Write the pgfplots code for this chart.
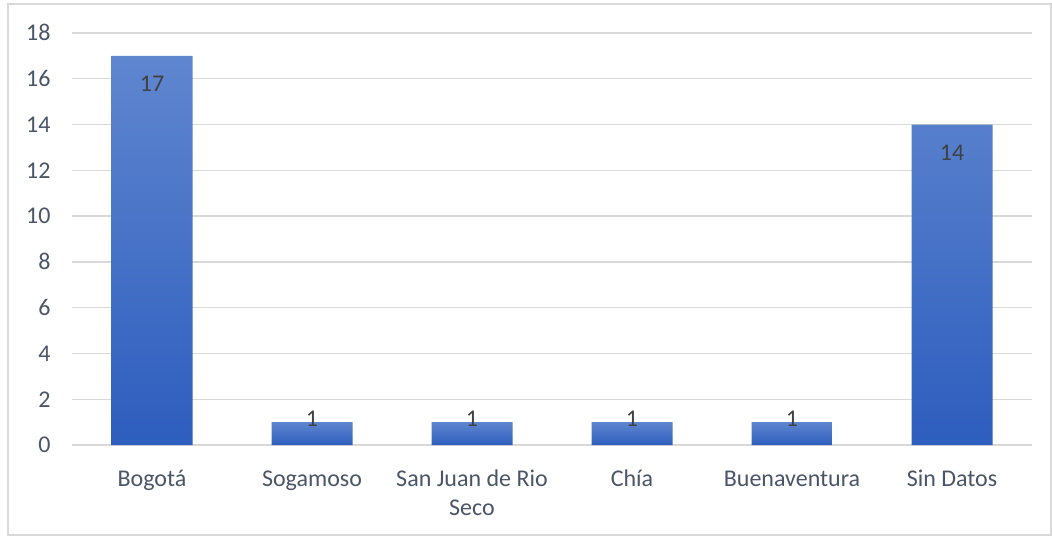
\documentclass[border=0pt]{standalone}
\usepackage{pgfplots}
\pgfplotsset{compat=1.18}
\usepackage{fontspec}
\setmainfont{Carlito}
\definecolor{gridc}{HTML}{D9D9D9}
\definecolor{tickc}{HTML}{4A5568}
\definecolor{labc}{HTML}{404040}
\definecolor{bartop}{HTML}{5F86CF}
\definecolor{barbot}{HTML}{2D5DBE}
\begin{document}
\begin{tikzpicture}[x=1pt,y=1pt]
\useasboundingbox (-72pt,-91pt) rectangle (980pt,445pt);
\draw[gridc, line width=1.2pt] (-64pt,-90pt) rectangle (979pt,441pt);
\begin{axis}[
  at={(0pt,0pt)}, anchor=south west,
  scale only axis, width=960pt, height=412pt,
  xmin=-0.5, xmax=5.5, ymin=0, ymax=18,
  ytick={0,2,...,18},
  xtick={0,1,2,3,4,5},
  xticklabels={Bogotá, Sogamoso, {San Juan de Rio\\Seco}, Chía, Buenaventura, Sin Datos},
  /pgf/number format/assume math mode=true,
  font=\fontsize{24}{29}\selectfont,
  tick label style={text=tickc},
  typeset ticklabels with strut,
  xticklabel style={align=center, anchor=north, yshift=-18pt},
  yticklabel style={anchor=east, xshift=-18pt, yshift=-2pt},
  major tick length=0pt,
  ymajorgrids,
  grid style={gridc, line width=1.3pt},
  axis lines*=left,
  x axis line style={gridc, line width=1.3pt, -},
  y axis line style={draw=none},
  ybar, bar width=81pt, bar shift=0pt,
]
\addplot[draw=none, top color=bartop, bottom color=barbot,
  nodes near coords,
  every node near coord/.style={anchor=north, yshift=-20pt, text=labc, font=\fontsize{24}{29}\selectfont, inner sep=0pt}]
  coordinates {(0,17) (5,14)};
\addplot[draw=none, top color=bartop, bottom color=barbot,
  nodes near coords,
  every node near coord/.style={anchor=center, yshift=3pt, text=labc, font=\fontsize{24}{29}\selectfont, inner sep=0pt}]
  coordinates {(1,1) (2,1) (3,1) (4,1)};
\end{axis}
\end{tikzpicture}
\end{document}
